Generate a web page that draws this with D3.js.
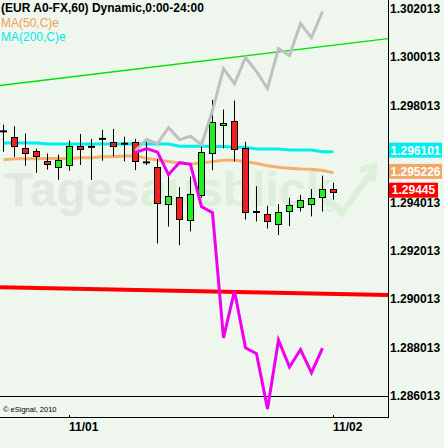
<!DOCTYPE html>
<html lang="en">
<head>
<meta charset="UTF-8">
<title>EUR A0-FX,60</title>
<script src="https://d3js.org/d3.v7.min.js"></script>
<style>
  html, body { margin: 0; padding: 0; background: #f0f8f0; }
  svg { display: block; font-family: "Liberation Sans", Arial, sans-serif; }
  .ax { font-size: 12px; font-weight: bold; fill: #000; }
</style>
</head>
<body>
<svg id="chart" width="444" height="448"></svg>
<script>
// hourly bars 31.10. 18:00 .. 02.11. 00:00
const opens  = [1.29694,1.29669,1.29625,1.29611,1.29573,1.29548,1.29555,1.29635,1.29630,1.29663,1.29650,1.29643,1.29650,1.29566,1.29547,1.29394,
                1.29423,1.29328,1.29431,1.29605,1.29721,1.29737,1.29625,1.29361,1.29353,1.29311,1.29365,1.29383,1.29396,1.29423,1.29456];
const highs  = [1.29722,1.29715,1.29685,1.29623,1.29602,1.29598,1.29656,1.29683,1.29663,1.29700,1.29704,1.29672,1.29663,1.29658,1.29580,1.29511,
                1.29463,1.29507,1.29658,1.29824,1.29784,1.29821,1.29651,1.29467,1.29387,1.29394,1.29420,1.29432,1.29456,1.29511,1.29482];
const lows   = [1.29610,1.29589,1.29552,1.29523,1.29536,1.29494,1.29532,1.29555,1.29493,1.29573,1.29591,1.29570,1.29534,1.29555,1.29231,1.29301,
                1.29224,1.29281,1.29420,1.29534,1.29624,1.29570,1.29330,1.29322,1.29293,1.29266,1.29303,1.29363,1.29343,1.29363,1.29412];
const closes = [1.29694,1.29631,1.29605,1.29589,1.29559,1.29576,1.29634,1.29624,1.29630,1.29663,1.29634,1.29643,1.29572,1.29566,1.29398,1.29427,
                1.29333,1.29435,1.29609,1.29733,1.29729,1.29621,1.29359,1.29361,1.29324,1.29361,1.29390,1.29410,1.29419,1.29456,1.29445];

const ma50  = [1.29577,1.29581,1.29581,1.29581,1.29582,1.29582,1.29582,1.29585,1.29585,1.29589,1.29589,1.29592,1.29592,1.29583,1.29576,1.29570,
               1.29563,1.29559,1.29563,1.29569,1.29575,1.29575,1.29569,1.29561,1.29552,1.29546,1.29542,1.29539,1.29538,1.29532,1.295226];
const ma200 = [1.29646,1.29646,1.29646,1.29646,1.29642,1.29642,1.29642,1.29642,1.29642,1.29642,1.29642,1.29642,1.29642,1.29642,1.29642,1.29642,
               1.29633,1.29633,1.29633,1.29631,1.29631,1.29628,1.29628,1.29621,1.29621,1.29621,1.29617,1.29617,1.29617,1.29610,1.296101];

// comparison lines, starting at bar 12
const compStart = 12;
const grayComp    = [1.29614,1.29660,1.29643,1.29709,1.29660,1.29674,1.29639,1.29780,1.29953,1.29891,1.29999,1.29941,1.29871,1.30036,1.30007,1.30139,1.30081,1.30189];
const magentaComp = [1.29606,1.29623,1.29608,1.29515,1.29565,1.29558,1.29383,1.29358,1.28841,1.29035,1.28800,1.28776,1.28548,1.28832,1.28721,1.28793,1.28698,1.28799];

// drawn lines, value at bar 0 and bar 30
const trendLine = [1.29885, 1.30050];
const supportLine = [1.29050, 1.29023];

const priceTicks = ["1.302013","1.300013","1.298013","1.294013","1.292013","1.290013","1.288013","1.286013"];
const dateTicks = ["11/01", "11/02"];
const dateTickBars = [6, 30];

const svg = d3.select("#chart");
const W = 388, H = 417;

const x = d3.scaleLinear().domain([0, 30]).range([3.5, 333.5]);
const y = d3.scaleLinear().domain([1.286013, 1.302013]).range([396, 8.5]);

// background hatch
const defs = svg.append("defs");
const pat = defs.append("pattern").attr("id", "hatch").attr("width", 4).attr("height", 4)
    .attr("patternUnits", "userSpaceOnUse");
pat.append("rect").attr("width", 4).attr("height", 4).attr("fill", "#f0f8f0");
pat.append("path").attr("d", "M0,4 L4,0").attr("stroke", "#e8f3e8").attr("stroke-width", 1);
defs.append("clipPath").attr("id", "plot").append("rect").attr("width", W).attr("height", H);

svg.append("rect").attr("width", 444).attr("height", 448).attr("fill", "url(#hatch)");

// watermark
const wm = svg.append("g").attr("font-weight", "bold");
wm.append("text").attr("x", 4).attr("y", 206).attr("font-size", 48).attr("fill", "#e1e8e1").text("Tages");
wm.append("text").attr("x", 140).attr("y", 206).attr("font-size", 48).attr("fill", "#dcefd8").text("ausblick");
wm.append("text").attr("x", 323).attr("y", 212).attr("font-size", 13).attr("fill", "#dcefd8").text(".de");
wm.append("path").attr("d", "M330,200 L342,213 L372,172 M360,170 L374,166 L373,181")
    .attr("fill", "none").attr("stroke", "#dcefd8").attr("stroke-width", 6);

const plot = svg.append("g").attr("clip-path", "url(#plot)");

// straight line through two bar values, run across the whole pane
function fullLine(vals) {
  const slope = (vals[1] - vals[0]) / 30;
  const i0 = x.invert(0), i1 = x.invert(W);
  return [[0, y(vals[0] + slope * i0)], [W, y(vals[0] + slope * i1)]];
}
plot.append("path").attr("d", d3.line()(fullLine(trendLine)))
    .attr("stroke", "#00e000").attr("stroke-width", 1.3).attr("fill", "none");
plot.append("path").attr("d", d3.line()(fullLine(supportLine)))
    .attr("stroke", "#ff0000").attr("stroke-width", 4).attr("fill", "none");

// lowest price line
const yLow = Math.floor(y(1.286013)) + 0.5;
plot.append("line").attr("x1", 0).attr("x2", W)
    .attr("y1", yLow).attr("y2", yLow).attr("stroke", "#000");

const line = d3.line().x((d, i) => x(i)).y(d => y(d));
plot.append("path").attr("d", line(ma200)).attr("stroke", "#00f0f0").attr("stroke-width", 3).attr("fill", "none");
plot.append("path").attr("d", line(ma50)).attr("stroke", "#f4b070").attr("stroke-width", 3).attr("fill", "none");

// candles
const bars = opens.map((o, i) => ({ i, o, h: highs[i], l: lows[i], c: closes[i] }));
const cg = plot.append("g");
cg.selectAll(".wick").data(bars).join("line")
    .attr("x1", d => x(d.i)).attr("x2", d => x(d.i))
    .attr("y1", d => y(d.h)).attr("y2", d => y(d.l))
    .attr("stroke", "#000").attr("stroke-width", 1);
const isDoji = d => Math.abs(d.o - d.c) < 0.00003;
cg.selectAll(".body").data(bars.filter(d => !isDoji(d))).join("rect")
    .attr("x", d => x(d.i) - 3)
    .attr("y", d => Math.round(y(Math.max(d.o, d.c))) + 0.5)
    .attr("width", 6)
    .attr("height", d => Math.max(1, Math.round(y(Math.min(d.o, d.c)) - y(Math.max(d.o, d.c)))))
    .attr("fill", d => d.c >= d.o ? "#22ee22" : "#f02020")
    .attr("stroke", "#000").attr("stroke-width", 1);
cg.selectAll(".doji").data(bars.filter(isDoji)).join("line")
    .attr("x1", d => x(d.i) - 3.5).attr("x2", d => x(d.i) + 3.5)
    .attr("y1", d => y(d.o)).attr("y2", d => y(d.o))
    .attr("stroke", "#000").attr("stroke-width", 2);

// comparison symbols
const cline = d3.line().x((d, i) => x(i + compStart)).y(d => y(d));
plot.append("path").attr("d", cline(grayComp)).attr("stroke", "#c0c0c0").attr("stroke-width", 3).attr("fill", "none");
plot.append("path").attr("d", cline(magentaComp)).attr("stroke", "#f000f0").attr("stroke-width", 3).attr("fill", "none");

// frame
svg.append("line").attr("x1", W + 0.5).attr("x2", W + 0.5).attr("y1", 0).attr("y2", H).attr("stroke", "#000");
svg.append("line").attr("x1", 0).attr("x2", W + 1).attr("y1", H + 0.5).attr("y2", H + 0.5).attr("stroke", "#000");

// price axis
svg.selectAll(".pt").data(priceTicks).join("text").attr("class", "ax")
    .attr("x", 390).attr("y", d => y(+d)).attr("dy", "0.36em").text(d => d);

// last value boxes
const lastVals = [
  { v: ma200[ma200.length - 1], txt: "1.296101", bg: "#00f0f0", w: 53 },
  { v: ma50[ma50.length - 1], txt: "1.295226", bg: "#f0a868", w: 53 },
  { v: closes[closes.length - 1], txt: "1.29445", bg: "#ff0000", w: 49 }
];
const lv = svg.selectAll(".lv").data(lastVals).join("g")
    .attr("transform", d => `translate(389,${y(d.v) - 1.5})`);
lv.append("rect").attr("x", 0).attr("y", -7.5).attr("width", d => d.w).attr("height", 15).attr("fill", d => d.bg);
lv.append("text").attr("class", "ax").attr("x", d => d.w / 2).attr("text-anchor", "middle")
    .attr("dy", "0.36em").style("fill", "#fff").text(d => d.txt);

// date axis
svg.selectAll(".dt").data(dateTickBars).join("line")
    .attr("x1", d => Math.floor(x(d)) + 0.5).attr("x2", d => Math.floor(x(d)) + 0.5)
    .attr("y1", H - 2).attr("y2", H).attr("stroke", "#000");
svg.selectAll(".dl").data(dateTicks).join("text").attr("class", "ax")
    .attr("x", (d, i) => Math.floor(x(dateTickBars[i]))).attr("y", 431).text(d => d);

// legend
svg.append("text").attr("x", 1).attr("y", 12).attr("font-size", 12).attr("font-weight", "bold")
    .attr("fill", "#000").text("(EUR A0-FX,60) Dynamic,0:00-24:00");
svg.append("text").attr("x", 1).attr("y", 27).attr("font-size", 12).attr("fill", "#f0a050").text("MA(50,C)e");
svg.append("text").attr("x", 1).attr("y", 41).attr("font-size", 12).attr("fill", "#00e8e8").text("MA(200,C)e");

svg.append("text").attr("x", 3).attr("y", 412).attr("font-size", 7.5).attr("fill", "#000").text("\u00a9 eSignal, 2010");
</script>
</body>
</html>
